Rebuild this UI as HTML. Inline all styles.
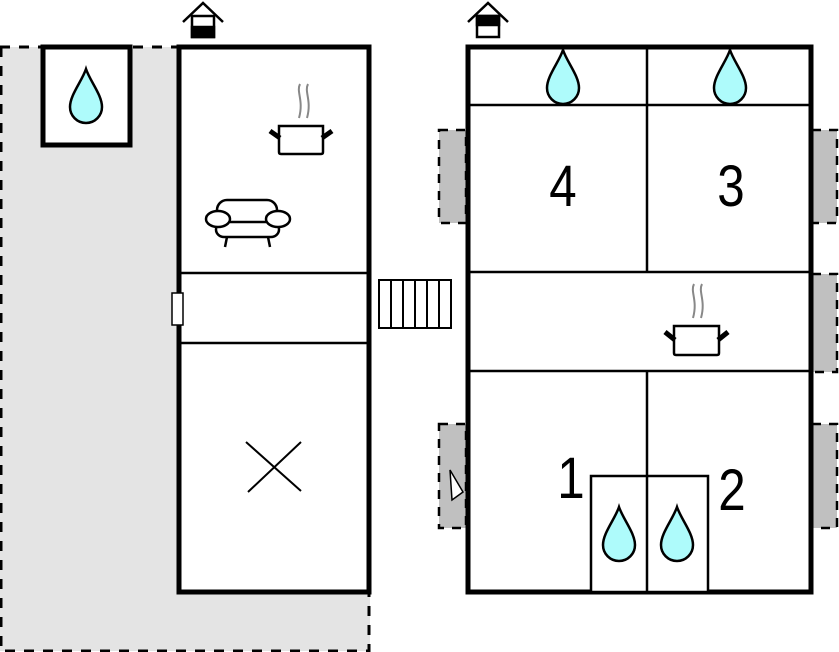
<!DOCTYPE html>
<html><head><meta charset="utf-8"><style>
html,body{margin:0;padding:0;background:#fff;}
svg{display:block;}
text{font-family:"Liberation Sans",sans-serif;}
</style></head><body>
<svg width="839" height="652" viewBox="0 0 839 652" xmlns="http://www.w3.org/2000/svg">
<defs>
<path id="drop" d="M16,0 C12,12 0,26 0,38 A16,16 0 0 0 32,38 C32,26 20,12 16,0Z" fill="#aefbfb" stroke="#000" stroke-width="2.5"/>
</defs>
<rect x="0" y="47" width="370" height="604" fill="#e4e4e4"/>
<path d="M1,47 V651 H369 V592 M0,47 H179" fill="none" stroke="#000" stroke-width="3" stroke-dasharray="10,9"/>
<rect x="43" y="47" width="87" height="98" fill="#fff" stroke="#000" stroke-width="5"/>
<use href="#drop" x="70" y="69"/>
<rect x="179" y="47" width="190" height="545" fill="#fff" stroke="#000" stroke-width="5"/>
<line x1="179" y1="273" x2="369" y2="273" stroke="#000" stroke-width="2.5"/>
<line x1="179" y1="343" x2="369" y2="343" stroke="#000" stroke-width="2.5"/>
<rect x="172" y="293" width="11" height="32" fill="#fff" stroke="#000" stroke-width="1.5"/>
<path d="M246,442 L301,491 M301,442 L248,492" stroke="#000" stroke-width="2"/>
<g stroke="#000" fill="none">
<path d="M300,84 C296,92 304,100 299,118 M308,84 C304,92 312,100 307,118" stroke="#888" stroke-width="2"/>
<path d="M279,126 H323 V152 Q323,154 321,154 H281 Q279,154 279,152Z" fill="#fff" stroke-width="2.5"/>
<path d="M270,131 L280,138 M332,131 L322,138" stroke-width="5"/>
</g>
<g stroke="#000" stroke-width="2.5" fill="#fff">
<rect x="217" y="200" width="60" height="26" rx="10"/>
<rect x="216" y="222" width="63" height="15" rx="8"/>
<ellipse cx="218" cy="219" rx="12" ry="8"/>
<ellipse cx="278" cy="219" rx="12" ry="8"/>
<path d="M227,237 L225,247 M268,237 L270,247" fill="none"/>
</g>
<g stroke="#000" stroke-width="2.5" fill="none">
<path d="M183,22 L203,3 L223,22"/>
<rect x="192" y="16" width="22" height="21" fill="#fff"/>
<rect x="192" y="27" width="22" height="10" fill="#000"/>
<path d="M468,22 L488,3 L508,22"/>
<rect x="477" y="16" width="22" height="21" fill="#fff"/>
<rect x="477" y="16" width="22" height="9" fill="#000"/>
</g>
<g stroke="#000" stroke-width="2" fill="#fff">
<rect x="379" y="280" width="72" height="48"/>
<path d="M391,280 V328 M403,280 V328 M415,280 V328 M427,280 V328 M439,280 V328" fill="none"/>
</g>
<g fill="#c0c0c0" stroke="#000" stroke-width="2.5" stroke-dasharray="9,8">
<rect x="439" y="130" width="27" height="93"/>
<rect x="439" y="424" width="27" height="104"/>
<rect x="812" y="130" width="25" height="93"/>
<rect x="812" y="274" width="25" height="98"/>
<rect x="812" y="424" width="25" height="104"/>
</g>
<path d="M450,470 L463,492 L452,500Z" fill="#fff" stroke="#000" stroke-width="1.5"/>
<rect x="468" y="47" width="343" height="545" fill="#fff" stroke="#000" stroke-width="5"/>
<g stroke="#000" stroke-width="2.5">
<line x1="468" y1="105" x2="811" y2="105"/>
<line x1="468" y1="272" x2="811" y2="272"/>
<line x1="468" y1="371" x2="811" y2="371"/>
<line x1="647" y1="47" x2="647" y2="272"/>
<line x1="647" y1="371" x2="647" y2="592"/>
</g>
<rect x="591" y="476" width="117" height="116" fill="#fff" stroke="#000" stroke-width="2.5"/>
<line x1="647" y1="476" x2="647" y2="592" stroke="#000" stroke-width="2.5"/>
<use href="#drop" x="547" y="50"/>
<use href="#drop" x="714" y="50"/>
<use href="#drop" x="603" y="507"/>
<use href="#drop" x="661" y="507"/>
<g stroke="#000" fill="none">
<path d="M694,284 C690,292 698,300 693,318 M702,284 C698,292 706,300 701,318" stroke="#888" stroke-width="2"/>
<path d="M674,326 H719 V353 Q719,355 717,355 H676 Q674,355 674,353Z" fill="#fff" stroke-width="2.5"/>
<path d="M665,332 L675,340 M728,332 L718,340" stroke-width="5"/>
</g>
<text x="563" y="206" font-size="58" text-anchor="middle" transform="translate(563 206) scale(0.85 1) translate(-563 -206)">4</text>
<text x="731" y="206" font-size="58" text-anchor="middle" transform="translate(731 206) scale(0.85 1) translate(-731 -206)">3</text>
<text x="571" y="498" font-size="58" text-anchor="middle" transform="translate(571 498) scale(0.85 1) translate(-571 -498)">1</text>
<text x="732" y="510" font-size="58" text-anchor="middle" transform="translate(732 510) scale(0.85 1) translate(-732 -510)">2</text>
</svg>
</body></html>
